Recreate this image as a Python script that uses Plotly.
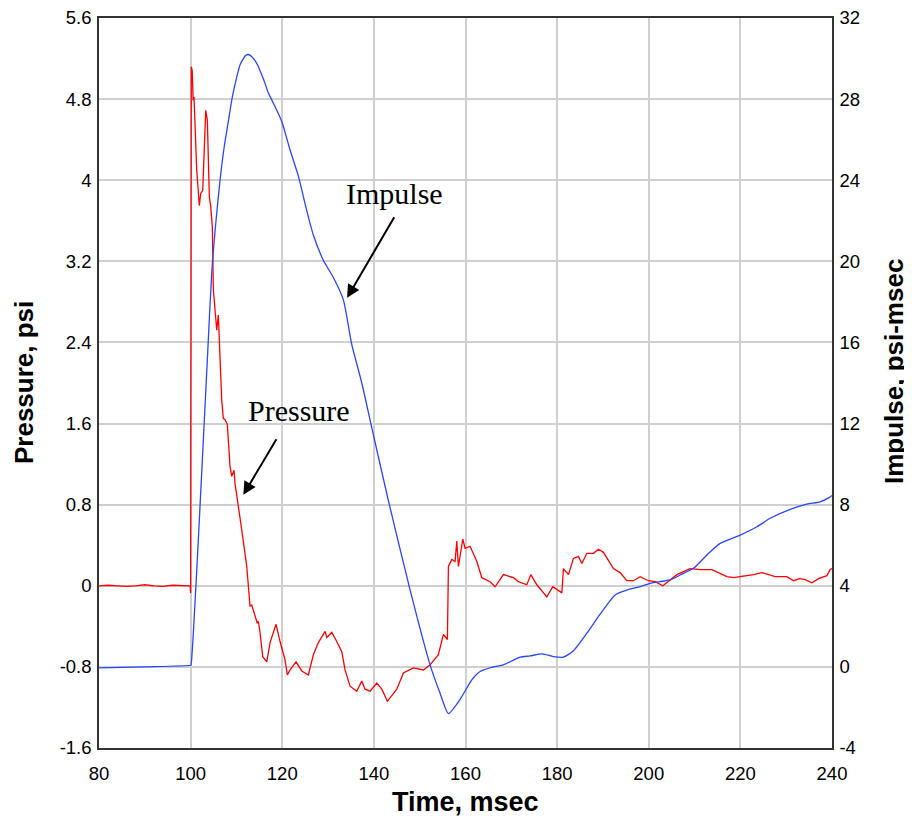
import plotly.graph_objects as go

# ---- Pressure trace (time msec, pressure psi) ----
p_time = [80, 82, 84, 86, 88, 90, 92, 94, 96, 98, 99.9, 100.0, 100.15, 100.35, 100.55, 100.74,
          101.18, 101.33, 101.9, 102.2, 102.64, 103.3, 103.65, 104.08, 104.39, 104.74, 104.96,
          105.7, 106.05, 106.27, 106.79, 107.14, 107.51, 108.01, 108.6, 108.97, 109.48, 109.69,
          110.41, 111.16, 112.25, 112.97, 113.34, 114.06, 114.56, 114.78, 115.15, 115.74, 116.62,
          117.34, 118.65, 119.52, 120.61, 121.11, 121.7, 123.01, 124.26, 125.7, 126.79, 127.88,
          129.35, 129.72, 130.81, 131.9, 132.99, 133.71, 134.8, 136.27, 137.36, 138.08, 139.17,
          140.63, 141.73, 142.95, 145.0, 146.44, 148.63, 150.81, 152.27, 154.08, 155.18, 156.05,
          156.27, 157.01, 157.73, 158.1, 158.45, 159.41, 159.91, 161.0, 162.47, 163.56, 165.37,
          166.46, 168.28, 170.46, 171.55, 173.38, 174.26, 175.57, 177.75, 179.06, 180.66, 181.03,
          181.38, 182.47, 183.56, 184.65, 185.4, 186.49, 187.93, 189.02, 190.11, 192.29, 193.76,
          195.22, 196.66, 198.12, 199.93, 201.4, 203.08, 204.67, 206.14, 209.04, 211.23, 213.78,
          215.22, 217.06, 218.5, 220.33, 222.87, 224.7, 226.14, 227.6, 230.16, 231.6, 232.91,
          234.15, 235.61, 237.06, 238.89, 239.6, 240]
p_val = [0.0, 0.005, 0.0, -0.005, 0.0, 0.01, 0.0, -0.005, 0.005, 0.0, 0.0, -0.07, 5.12, 5.08, 4.79, 4.82,
         4.13, 4.1, 3.75, 3.87, 3.9, 4.69, 4.59, 3.84, 3.74, 3.54, 2.92,
         2.52, 2.67, 2.42, 1.83, 1.65, 1.64, 1.59, 1.18, 1.08, 1.14, 1.01,
         0.80, 0.55, 0.19, -0.20, -0.19, -0.30, -0.37, -0.35, -0.46, -0.70, -0.75,
         -0.56, -0.38, -0.55, -0.73, -0.88, -0.83, -0.75, -0.84, -0.88, -0.68, -0.56,
         -0.45, -0.51, -0.46, -0.55, -0.65, -0.83, -0.99, -1.04, -0.94, -1.02, -1.04,
         -0.96, -1.02, -1.14, -1.02, -0.86, -0.81, -0.83, -0.78, -0.68, -0.48, -0.53,
         0.19, 0.26, 0.24, 0.44, 0.19, 0.46, 0.37, 0.39, 0.24, 0.08, 0.04,
         -0.01, 0.11, 0.08, 0.04, 0.01, 0.11, 0.01, -0.11, -0.01, -0.06, -0.07,
         0.17, 0.11, 0.27, 0.29, 0.22, 0.32, 0.32, 0.36, 0.33, 0.17, 0.13,
         0.05, 0.05, 0.09, 0.05, 0.04, 0.0, 0.06, 0.11, 0.17, 0.16, 0.16,
         0.13, 0.09, 0.08, 0.09, 0.11, 0.13, 0.11, 0.09, 0.09, 0.05, 0.07,
         0.06, 0.03, 0.07, 0.10, 0.16, 0.17]

# ---- Impulse trace (time msec, impulse psi-msec) ----
i_time = [80, 90, 100.0, 100.09, 100.59, 101.68, 102.77, 103.75, 104.6, 105.5, 106.42, 107.3,
          108.23, 109.1, 110.07, 110.8, 111.51, 112.0, 112.6, 113.3, 114.06, 114.8, 115.52, 116.2,
          116.97, 118.06, 119.89, 121.7, 123.52, 125.35, 126.79, 128.97, 131.16, 133.34, 135.17,
          137.36, 139.54, 143.17, 147.9, 152.27, 154.45, 156.27, 158.82, 161.38, 163.19, 166.09,
          168.28, 171.92, 174.1, 176.66, 179.19, 181.38, 183.56, 186.48, 189.39, 192.66, 195.22,
          198.12, 200.31, 204.67, 206.85, 209.76, 212.69, 215.59, 219.96, 223.6, 226.51, 230.87,
          234.52, 237.42, 239.45, 240]
i_val = [-0.05, 0.0, 0.08, 0.1, 1.66, 6.26, 11.18, 15.6, 19.4, 21.9, 24.0, 25.6,
         26.9, 28.1, 29.1, 29.7, 30.0, 30.15, 30.2, 30.1, 29.9, 29.6, 29.2, 28.8,
         28.3, 27.8, 26.9, 25.5, 24.2, 22.5, 21.3, 20.05, 19.2, 18.1, 15.9,
         14.0, 11.8, 8.2, 3.8, 0.1, -1.3, -2.3, -1.6, -0.64, -0.23, 0.0,
         0.1, 0.48, 0.54, 0.64, 0.51, 0.48, 0.8, 1.66, 2.6, 3.55, 3.79,
         3.96, 4.12, 4.29, 4.53, 4.86, 5.52, 6.09, 6.5, 6.91, 7.33, 7.77,
         8.03, 8.14, 8.36, 8.45]

# ---- Tick labels ----
x_ticks = [80, 100, 120, 140, 160, 180, 200, 220, 240]
x_labels = ["80", "100", "120", "140", "160", "180", "200", "220", "240"]
p_ticks = [-1.6, -0.8, 0, 0.8, 1.6, 2.4, 3.2, 4, 4.8, 5.6]
p_labels = ["-1.6", "-0.8", "0", "0.8", "1.6", "2.4", "3.2", "4", "4.8", "5.6"]
i_ticks = [-4, 0, 4, 8, 12, 16, 20, 24, 28, 32]
i_labels = ["-4", "0", "4", "8", "12", "16", "20", "24", "28", "32"]

TICKFONT = dict(family="Liberation Sans, Arial, sans-serif", size=18.5, color="black")
TITLEFONT = dict(family="Liberation Sans, Arial, sans-serif", color="black")
SERIF = dict(family="Liberation Serif, Times New Roman, serif", size=30, color="black")
GRID = "#cfcfcf"
FRAME = "#333333"

fig = go.Figure()
fig.add_trace(go.Scatter(x=p_time, y=p_val, mode="lines", name="Pressure",
                         line=dict(color="#ff0000", width=1.3), yaxis="y"))
fig.add_trace(go.Scatter(x=i_time, y=i_val, mode="lines", name="Impulse",
                         line=dict(color="#2845ff", width=1.3, shape="spline", smoothing=0.6),
                         yaxis="y2"))

# the page body adds an 8 px margin, so the figure is sized to fit inside it
fig.update_layout(
    width=904, height=810,
    margin=dict(l=91, r=80, t=9.5, b=70, autoexpand=False),
    paper_bgcolor="white", plot_bgcolor="white",
    showlegend=False,
    xaxis=dict(range=[80, 240], tickmode="array", tickvals=x_ticks, ticktext=x_labels,
               showgrid=True, gridcolor=GRID, gridwidth=1.5, zeroline=False,
               showline=True, linecolor=FRAME, linewidth=1.5, mirror=True,
               ticks="", tickfont=TICKFONT, ticklabelstandoff=8,
               ticklabeloverflow="allow", automargin=False),
    yaxis=dict(range=[-1.6, 5.6], tickmode="array", tickvals=p_ticks, ticktext=p_labels,
               showgrid=True, gridcolor=GRID, gridwidth=1.5, zeroline=False,
               showline=True, linecolor=FRAME, linewidth=1.5, mirror=True,
               ticks="", tickfont=TICKFONT, ticklabelstandoff=2,
               ticklabeloverflow="allow", automargin=False),
    yaxis2=dict(range=[-4, 32], tickmode="array", tickvals=i_ticks, ticktext=i_labels,
                overlaying="y", side="right", showgrid=False, zeroline=False,
                showline=True, linecolor=FRAME, linewidth=1.5,
                ticks="", tickfont=TICKFONT, ticklabelstandoff=2,
                ticklabeloverflow="allow", automargin=False),
)

annotations = [
    # axis titles
    dict(text="<b>Time, msec</b>", xref="paper", yref="paper", x=0.5, y=-0.0735,
         xanchor="center", yanchor="middle", showarrow=False, font=dict(TITLEFONT, size=27)),
    dict(text="<b>Pressure, psi</b>", xref="paper", yref="paper", x=-0.1023, y=0.5,
         xanchor="center", yanchor="middle", textangle=-90, showarrow=False,
         font=dict(TITLEFONT, size=26)),
    dict(text="<b>Impulse, psi-msec</b>", xref="paper", yref="paper", x=1.0846, y=0.515,
         xanchor="center", yanchor="middle", textangle=-90, showarrow=False,
         font=dict(TITLEFONT, size=26)),
    # series labels
    dict(text="Impulse", x=144.4, y=3.87, xref="x", yref="y", showarrow=False,
         xanchor="center", yanchor="middle", font=SERIF),
    dict(text="Pressure", x=123.67, y=1.73, xref="x", yref="y", showarrow=False,
         xanchor="center", yanchor="middle", font=SERIF),
    # arrows
    dict(text="", x=134.15, y=2.84, xref="x", yref="y", ax=48, ay=-82, showarrow=True,
         arrowhead=2, arrowsize=1.3, arrowwidth=2, arrowcolor="black", standoff=0),
    dict(text="", x=111.5, y=0.897, xref="x", yref="y", ax=34, ay=-57, showarrow=True,
         arrowhead=2, arrowsize=1.3, arrowwidth=2, arrowcolor="black", standoff=0),
]
fig.update_layout(annotations=annotations)

fig.write_html("out.html")
